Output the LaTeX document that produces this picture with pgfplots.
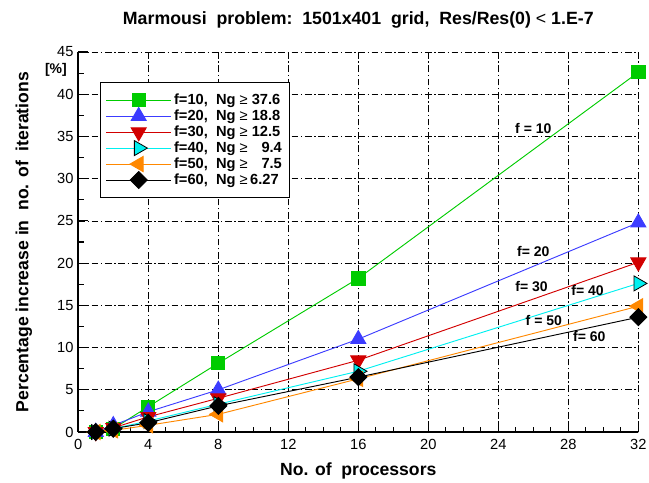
\documentclass[border=0pt]{standalone}
\usepackage{fontspec}
\setmainfont{Liberation Sans}
\usepackage{pgfplots}
\pgfplotsset{compat=1.18}
\definecolor{cgreen}{RGB}{0,204,0}
\definecolor{cblue}{RGB}{60,60,255}
\definecolor{cred}{RGB}{210,0,0}
\definecolor{ccyan}{RGB}{0,240,240}
\definecolor{corange}{RGB}{255,136,0}
\begin{document}
\begin{tikzpicture}
\begin{axis}[
  name=ax,
  scale only axis,
  width=420pt, height=285pt,
  xmin=0, xmax=32, ymin=0, ymax=45,
  xtick={0,4,...,32}, ytick={0,5,...,45},
  minor x tick num=3, minor y tick num=1,
  axis lines=left, axis line style={-, line width=1.4pt},
  tick align=inside, xtick pos=left, ytick pos=left,
  major tick length=7pt, minor tick length=4pt,
  tick style={black, line width=0.8pt},
  grid=major,
  major grid style={black, line width=0.5pt, dash pattern=on 5pt off 2pt on 1pt off 2pt},
  /pgf/number format/assume math mode=true,
  ticklabel style={font=\fontsize{11}{13}\selectfont},
  xticklabel style={yshift=-2pt},
  xlabel={\textbf{No. of\ \ processors}},
  ylabel={\textbf{Percentage increase in\ \ no. of\ \ iterations}},
  label style={font=\fontsize{13.2}{15}\selectfont},
  xlabel style={yshift=-3pt},
  ylabel style={yshift=12pt},
  title={\textbf{Marmousi\ \ problem:\ \ 1501x401\ \ grid,\ \ Res/Res(0) {\fontseries{m}\selectfont <} 1.E-7}},
  title style={font=\fontsize{13.3}{15}\selectfont, yshift=8pt},
  legend style={at={(axis description cs:0.039,0.921)}, anchor=north west,
    draw=black, line width=0.8pt, font=\fontsize{11}{12}\selectfont\bfseries,
    row sep=-1.5pt, inner xsep=4pt, inner ysep=6.5pt},
  legend cell align=left,
  legend image code/.code={\draw[mark repeat=2,mark phase=2] plot coordinates {(0cm,0cm) (0.85cm,0cm) (1.7cm,0cm)};},
  every axis plot/.append style={line width=0.7pt},
  clip=false,
]
\addplot[cgreen, mark=square*, mark size=5pt, mark options={solid, fill=cgreen}] coordinates {(1,0) (2,0.4) (4,3.0) (8,8.15) (16,18.2) (32,42.6)};
\addlegendentry{f=10,\ \ Ng {\fontseries{m}\selectfont ≥} 37.6}
\addplot[cblue, mark=triangle*, mark size=6.5pt, mark options={solid, fill=cblue}] coordinates {(1,0) (2,0.8) (4,2.4) (8,5.0) (16,11.0) (32,24.8)};
\addlegendentry{f=20,\ \ Ng {\fontseries{m}\selectfont ≥} 18.8}
\addplot[cred, mark=triangle*, mark size=6.5pt, mark options={solid, fill=cred, rotate=180}] coordinates {(1,0) (2,0.5) (4,1.8) (8,4.0) (16,8.5) (32,20.1)};
\addlegendentry{f=30,\ \ Ng {\fontseries{m}\selectfont ≥} 12.5}
\addplot[ccyan, mark=triangle*, mark size=6.5pt, mark options={solid, fill=ccyan, draw=black, line width=0.6pt, rotate=-90}] coordinates {(1,0) (2,0.4) (4,1.3) (8,3.3) (16,7.2) (32,17.6)};
\addlegendentry{f=40,\ \ Ng {\fontseries{m}\selectfont ≥} \makebox[2.05em][r]{9.4}}
\addplot[corange, mark=triangle*, mark size=6.5pt, mark options={solid, fill=corange, rotate=90}] coordinates {(1,0) (2,0.2) (4,0.8) (8,2.1) (16,6.3) (32,14.9)};
\addlegendentry{f=50,\ \ Ng {\fontseries{m}\selectfont ≥} \makebox[2.05em][r]{7.5}}
\addplot[black, mark=square*, mark size=4.5pt, mark options={solid, fill=black, rotate=45}] coordinates {(1,0) (2,0.4) (4,1.1) (8,3.1) (16,6.5) (32,13.6)};
\addlegendentry{f=60,\ \ Ng {\fontseries{m}\selectfont ≥}\,6.27}
\node[font=\fontsize{10.5}{12}\selectfont\bfseries] at (axis cs:26.0,36.0) {f = 10};
\node[font=\fontsize{10.5}{12}\selectfont\bfseries] at (axis cs:26.0,21.4) {f= 20};
\node[font=\fontsize{10.5}{12}\selectfont\bfseries] at (axis cs:25.9,17.2) {f= 30};
\node[font=\fontsize{10.5}{12}\selectfont\bfseries] at (axis cs:29.1,16.8) {f= 40};
\node[font=\fontsize{10.5}{12}\selectfont\bfseries] at (axis cs:26.6,13.2) {f = 50};
\node[font=\fontsize{10.5}{12}\selectfont\bfseries] at (axis cs:29.2,11.3) {f= 60};
\node[anchor=east, font=\fontsize{10.5}{12}\selectfont\bfseries] at (rel axis cs:-0.012,0.953) {[\%]};
\coordinate (O) at (rel axis cs:0,0);
\coordinate (T) at (rel axis cs:1,1);
\end{axis}
\pgfresetboundingbox
\path ([xshift=-58.7pt,yshift=-37.5pt]O) rectangle ([xshift=8pt,yshift=39pt]T);
\end{tikzpicture}
\end{document}
